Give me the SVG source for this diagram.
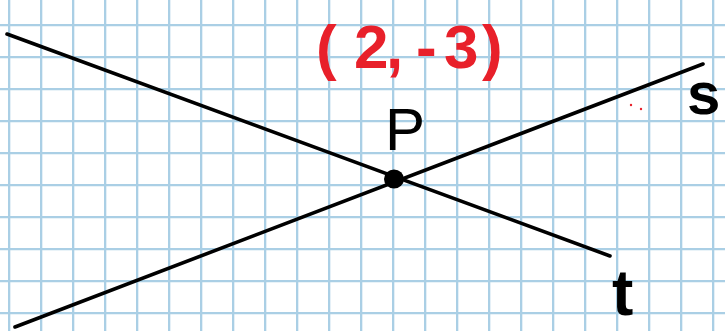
<svg xmlns="http://www.w3.org/2000/svg" width="725" height="331" viewBox="0 0 725 331">
<defs>
<style>
.ln{stroke:#000;stroke-width:3.6;stroke-linecap:round;fill:none}
.lbl{font-family:"Liberation Sans","DejaVu Sans",sans-serif;fill:#000}
.red{font-family:"Liberation Sans","DejaVu Sans",sans-serif;fill:#e8202a;font-weight:bold}
</style>
<pattern id="gp" x="8" y="24" width="32" height="32" patternUnits="userSpaceOnUse">
<rect width="32" height="32" fill="#fff"/>
<path d="M0 0V32M0 0H32" stroke="#aacfe5" stroke-width="4.6" fill="none"/>
</pattern>
</defs>
<rect width="725" height="331" fill="#fff"/>
<rect width="725" height="331" fill="url(#gp)"/>
<g id="connectors">
<line class="ln" x1="7" y1="34" x2="610" y2="256"/>
<line class="ln" x1="15" y1="327" x2="703" y2="64"/>
</g>
<g id="P">
<ellipse cx="394" cy="179" rx="10" ry="9.5" fill="#000"/>
<text class="lbl" x="385" y="150" font-size="60">P</text>
</g>
<g id="coords">
<text class="red" font-size="62" x="316 354 386 400 416 444 482" y="68">(2, -3)</text>
<circle cx="631" cy="105" r="1.2" fill="#e8202a"/>
<circle cx="641" cy="109" r="1.2" fill="#e8202a"/>
</g>
<g id="s">
<text class="lbl" x="687" y="114" font-size="60" font-weight="bold">s</text>
</g>
<g id="t">
<text class="lbl" x="612" y="315" font-size="64" font-weight="bold">t</text>
</g>
</svg>
